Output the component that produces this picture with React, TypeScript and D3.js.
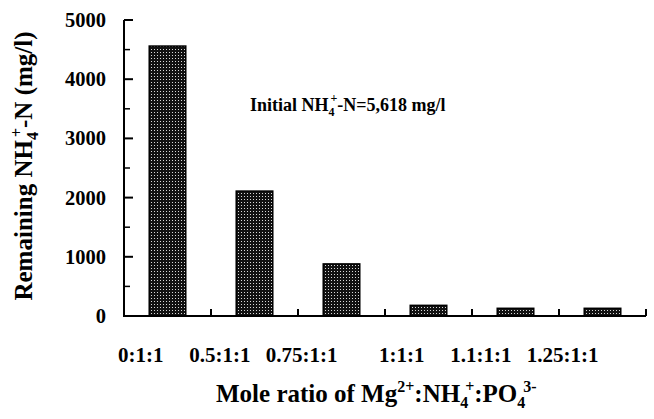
import React from 'react';
import * as d3 from 'd3';

// mole ratio Mg:NH4:PO4 and remaining ammonium (mg/l)
const categories = ['0:1:1', '0.5:1:1', '0.75:1:1', '1:1:1', '1.1:1:1', '1.25:1:1'];
const remainingNH4 = [4560, 2110, 880, 180, 130, 130];
const yTicks = [0, 1000, 2000, 3000, 4000, 5000];
const yMinorTicks = [500, 1500, 2500, 3500, 4500];

const W = 654;
const H = 419;
const margin = { left: 124, right: 8, top: 20, bottom: 103 };
const font = '"Liberation Serif", "Times New Roman", serif';

export default function App() {
  const x = d3
    .scaleBand<string>()
    .domain(categories)
    .range([margin.left, W - margin.right])
    .padding(0);
  const y = d3
    .scaleLinear()
    .domain([0, 5000])
    .range([H - margin.bottom, margin.top]);

  const barW = x.bandwidth() * 0.42;
  const y0 = y(0);

  return (
    <svg
      width={W}
      height={H}
      style={{ position: 'absolute', left: 0, top: 0, background: '#fff' }}
      fontFamily={font}
      fontWeight="bold"
    >
      <defs>
        <pattern id="dots" width={3} height={3} patternUnits="userSpaceOnUse">
          <rect width={3} height={3} fill="#111" />
          <rect x={1} y={1} width={1} height={1} fill="#d8d8d8" />
        </pattern>
      </defs>

      {/* bars */}
      {categories.map((c, i) => (
        <rect
          key={c}
          x={x(c)! + (x.bandwidth() - barW) / 2}
          y={y(remainingNH4[i])}
          width={barW}
          height={y0 - y(remainingNH4[i])}
          fill="url(#dots)"
          stroke="#000"
          strokeWidth={1.5}
        />
      ))}

      {/* y axis */}
      <line x1={margin.left} x2={margin.left} y1={y(5000)} y2={y0} stroke="#000" strokeWidth={2} />
      {yTicks.map((t) => (
        <g key={t}>
          <line x1={margin.left} x2={margin.left + 9} y1={y(t)} y2={y(t)} stroke="#000" strokeWidth={2} />
          <text x={106} y={y(t) + 7} textAnchor="end" fontSize={20.5}>
            {t}
          </text>
        </g>
      ))}
      {yMinorTicks.map((t) => (
        <line key={t} x1={margin.left} x2={margin.left + 6} y1={y(t)} y2={y(t)} stroke="#000" strokeWidth={1.5} />
      ))}

      {/* x axis */}
      <line x1={margin.left - 1} x2={W - margin.right} y1={y0} y2={y0} stroke="#000" strokeWidth={2} />
      {categories.map((c) => (
        <line
          key={c}
          x1={x(c)! + x.bandwidth()}
          x2={x(c)! + x.bandwidth()}
          y1={y0}
          y2={y0 - 7}
          stroke="#000"
          strokeWidth={2}
        />
      ))}
      {categories.map((c) => (
        <text key={c} x={x(c)! + x.bandwidth() / 2 - 4} y={362} textAnchor="end" fontSize={21}>
          {c}
        </text>
      ))}

      {/* annotation */}
      <text x={250} y={111} fontSize={18}>
        Initial NH
        <tspan fontSize={12} dy={5}>4</tspan>
        <tspan fontSize={12} dx={-4} dy={-14}>+</tspan>
        <tspan dy={9}>-N=5,618 mg/l</tspan>
      </text>

      {/* axis titles */}
      <text x={216} y={402} fontSize={25}>
        Mole ratio of Mg
        <tspan fontSize={16} dy={-10}>2+</tspan>
        <tspan fontSize={25} dy={10}>:NH</tspan>
        <tspan fontSize={16} dy={6}>4</tspan>
        <tspan fontSize={16} dx={-3} dy={-16}>+</tspan>
        <tspan fontSize={25} dy={10}>:PO</tspan>
        <tspan fontSize={16} dy={6}>4</tspan>
        <tspan fontSize={16} dx={-2} dy={-16}>3-</tspan>
      </text>
      <text transform="translate(32,166) rotate(-90)" textAnchor="middle" fontSize={25}>
        Remaining NH
        <tspan fontSize={16} dy={6}>4</tspan>
        <tspan fontSize={16} dx={-5} dy={-16}>+</tspan>
        <tspan fontSize={25} dy={10}>-N (mg/l)</tspan>
      </text>
    </svg>
  );
}
